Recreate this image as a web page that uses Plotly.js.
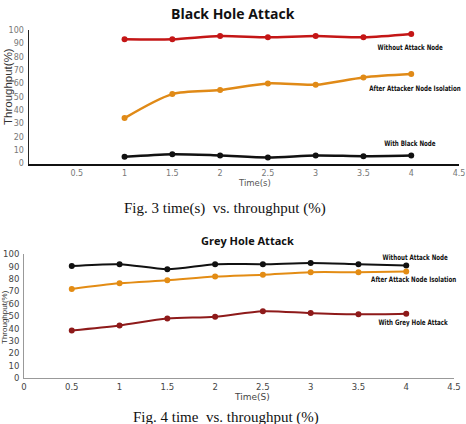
<!DOCTYPE html>
<html>
<head>
<meta charset="utf-8">
<script src="https://cdn.plot.ly/plotly-3.0.1.min.js"></script>
<style>
  html, body { margin: 0; padding: 0; background: #fff; }
  #chart { width: 466px; height: 424px; }
</style>
</head>
<body>
<div id="chart"></div>
<script>
// Fig. 3 – Black hole attack: throughput (%) over time (s)
const timeBlack = [1, 1.5, 2, 2.5, 3, 3.5, 4];
const blackWithoutAttack = [93, 93, 95.5, 94.5, 95.5, 94.5, 97];
const blackAfterIsolation = [34, 52, 55, 60, 59, 64.5, 67];
const blackWithBlackNode = [5, 7, 6, 4.5, 6, 5.5, 6];

// Fig. 4 – Grey hole attack: throughput (%) over time (s)
const timeGrey = [0.5, 1, 1.5, 2, 2.5, 3, 3.5, 4];
const greyWithoutAttack = [90.5, 92, 88, 92, 92, 93, 92, 91];
const greyAfterIsolation = [72, 76.5, 79, 82, 83.5, 85.5, 85.5, 86];
const greyWithGreyAttack = [38.5, 42.5, 48, 49.5, 54, 52.5, 51.5, 52];

const xTicksTop = [0.5, 1, 1.5, 2, 2.5, 3, 3.5, 4, 4.5];
const xTicksBottom = [0, 0.5, 1, 1.5, 2, 2.5, 3, 3.5, 4, 4.5];
const yTicks = [0, 10, 20, 30, 40, 50, 60, 70, 80, 90, 100];

const W = 466, H = 424;
const px = x => x / W;
const py = y => 1 - y / H;

function series(x, y, color, width, axes) {
  return {
    x: x, y: y, type: 'scatter', mode: 'lines+markers',
    line: { color: color, width: width, shape: 'spline', smoothing: 0.8 },
    marker: { color: color, size: 6, symbol: 'circle' },
    xaxis: axes[0], yaxis: axes[1], hoverinfo: 'skip', showlegend: false
  };
}

const data = [
  series(timeBlack, blackWithoutAttack, '#c41616', 2.5, ['x', 'y']),
  series(timeBlack, blackAfterIsolation, '#e08a17', 2.5, ['x', 'y']),
  series(timeBlack, blackWithBlackNode, '#111111', 2.5, ['x', 'y']),
  series(timeGrey, greyWithoutAttack, '#111111', 2, ['x2', 'y2']),
  series(timeGrey, greyAfterIsolation, '#e38c14', 2, ['x2', 'y2']),
  series(timeGrey, greyWithGreyAttack, '#8e1a1a', 2, ['x2', 'y2'])
];

// bold face for the series labels (narrowed after drawing)
const labelFont = { family: 'DejaVu Sans', size: 7.5, color: '#111', weight: 'bold' };

function note(text, x, y, font, extra) {
  return Object.assign({
    text: text, xref: 'paper', yref: 'paper', x: px(x), y: py(y),
    xanchor: 'center', yanchor: 'middle', showarrow: false, font: font
  }, extra || {});
}

const sans = 'DejaVu Sans, sans-serif';
const lib = 'Liberation Sans, Arial, sans-serif';
const serif = 'Liberation Serif, Times New Roman, serif';

const annotations = [
  // chart titles
  note('<b>Black Hole Attack</b>', 233, 13, { family: 'Open Sans, DejaVu Sans, sans-serif', size: 14, color: '#111' }),
  note('<b>Grey Hole Attack</b>', 247, 240, { family: 'Open Sans, DejaVu Sans, sans-serif', size: 11, color: '#111' }),
  // series labels, fig. 3
  note('Without Attack Node', 410, 48, labelFont),
  note('After Attacker Node Isolation', 415, 89, labelFont),
  note('With Black Node', 410, 144, labelFont),
  // series labels, fig. 4
  note('Without Attack Node', 415, 257, labelFont),
  note('After Attack Node Isolation', 413, 279, labelFont),
  note('With Grey Hole Attack', 413, 322, labelFont),
  // axis titles
  note('Time(s)', 255, 183, { family: sans, size: 8.5, color: '#555' }),
  note('Time(S)', 252, 397, { family: sans, size: 9, color: '#444' }),
  note('Throughput(%)', 8, 87, { family: lib, size: 11.5, color: '#333' }, { textangle: -90 }),
  note('Throughput(%)', 4, 317, { family: lib, size: 8, color: '#333' }, { textangle: -90 }),
  // figure captions
  note('Fig. 3 time(s)  vs. throughput (%)', 225, 208, { family: serif, size: 15, color: '#111' }),
  note('Fig. 4 time  vs. throughput (%)', 226, 417, { family: serif, size: 15, color: '#111' })
];
// indices of the series labels, drawn in a condensed width
const condensedLabels = [2, 3, 4, 5, 6, 7];
const condenseFactor = 0.74;

const tickFontTop = { family: sans, size: 8, color: '#777' };
const tickFontBottom = { family: sans, size: 8.5, color: '#444' };

const layout = {
  width: W, height: H,
  margin: { l: 0, r: 0, t: 0, b: 0 },
  paper_bgcolor: '#fff', plot_bgcolor: '#fff',
  showlegend: false,
  xaxis: {
    domain: [px(29), px(459)], range: [0, 4.5], anchor: 'y',
    tickvals: xTicksTop, ticktext: xTicksTop.map(String),
    showgrid: false, zeroline: false, showline: true, linecolor: '#111', linewidth: 2,
    ticks: '', tickfont: tickFontTop, ticklabelstandoff: 1
  },
  yaxis: {
    domain: [py(163.5), py(30)], range: [0, 100], anchor: 'x',
    tickvals: yTicks, ticktext: yTicks.map(String),
    showgrid: false, zeroline: false, showline: true, linecolor: '#222', linewidth: 1.5,
    ticks: '', tickfont: tickFontTop, ticklabelstandoff: 2
  },
  xaxis2: {
    domain: [px(24), px(454)], range: [0, 4.5], anchor: 'y2',
    tickvals: xTicksBottom, ticktext: xTicksBottom.map(String),
    showgrid: false, zeroline: false, showline: true, linecolor: '#999', linewidth: 1,
    ticks: '', tickfont: tickFontBottom, ticklabelstandoff: 1
  },
  yaxis2: {
    domain: [py(378), py(254.3)], range: [0, 100], anchor: 'x2',
    tickvals: yTicks, ticktext: yTicks.map(String),
    showgrid: false, zeroline: false, showline: true, linecolor: '#999', linewidth: 1,
    ticks: '', tickfont: tickFontBottom, ticklabelstandoff: 2
  },
  annotations: annotations
};

Plotly.newPlot('chart', data, layout, { staticPlot: true, displayModeBar: false }).then(gd => {
  // squeeze the series labels horizontally about their own centre
  condensedLabels.forEach(i => {
    const t = gd.querySelector('.annotation[data-index="' + i + '"] text');
    if (!t) return;
    const b = t.getBBox();
    const cx = b.x + b.width / 2;
    t.setAttribute('transform', 'translate(' + cx + ',0) scale(' + condenseFactor + ',1) translate(' + (-cx) + ',0)');
  });
});
</script>
</body>
</html>
